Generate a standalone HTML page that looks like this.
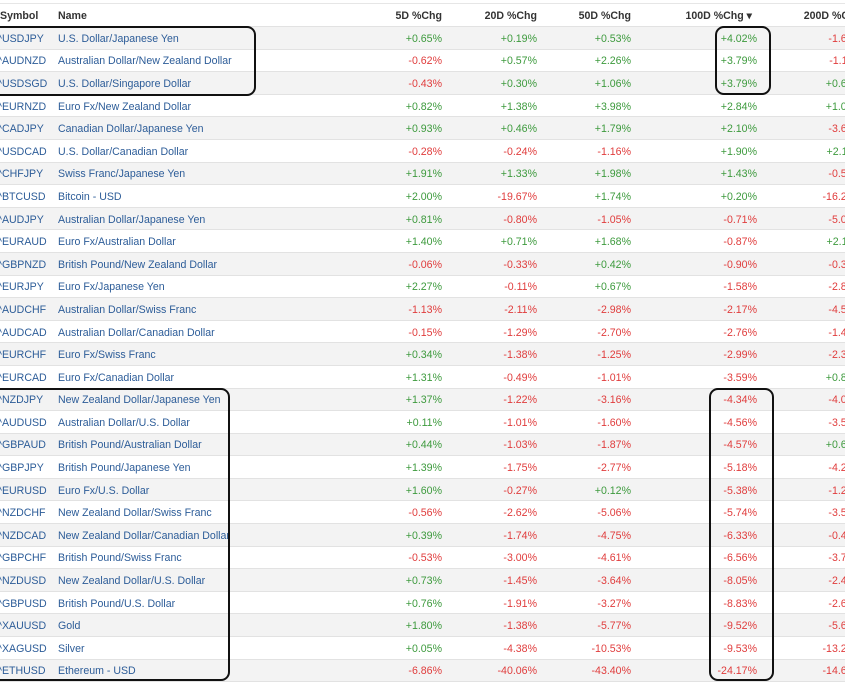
<!DOCTYPE html>
<html><head><meta charset="utf-8"><style>
html,body{margin:0;padding:0;background:#fff;width:845px;height:684px;overflow:hidden;position:relative}
table{position:absolute;left:-3px;top:3px;border-collapse:collapse;table-layout:fixed;width:865px;font-family:"Liberation Sans",sans-serif;font-size:10.6px;border-top:1px solid #e6e6e6}
td,th{height:22.6px;padding:2px 0 0 0;border-bottom:1px solid #e2e2e2;white-space:nowrap;overflow:hidden;box-sizing:border-box}
th{font-weight:bold;color:#333;text-align:right;height:23px}
th.l{text-align:left}
tr:nth-child(even) td{background:#f3f3f3}
td.s,td.n{color:#2c5c98}
td.r{text-align:right}
.g{color:#3d9a3d}.d{color:#e03c3c}
.box{position:absolute;border:2px solid #111;border-radius:9px;box-sizing:border-box}
</style></head><body>
<table>
<colgroup><col style="width:61px"><col style="width:325px"><col style="width:59px"><col style="width:95px"><col style="width:94px"><col style="width:126px"><col style="width:105px"></colgroup>
<tr><th class="l" style="padding-left:3px">Symbol</th><th class="l">Name</th><th>5D %Chg</th><th>20D %Chg</th><th>50D %Chg</th><th style="padding-right:5px">100D %Chg ▾</th><th>200D %Chg</th></tr>
<tr><td class="s">^USDJPY</td><td class="n">U.S. Dollar/Japanese Yen</td><td class="r g">+0.65%</td><td class="r g">+0.19%</td><td class="r g">+0.53%</td><td class="r g">+4.02%</td><td class="r d">-1.61%</td></tr>
<tr><td class="s">^AUDNZD</td><td class="n">Australian Dollar/New Zealand Dollar</td><td class="r d">-0.62%</td><td class="r g">+0.57%</td><td class="r g">+2.26%</td><td class="r g">+3.79%</td><td class="r d">-1.11%</td></tr>
<tr><td class="s">^USDSGD</td><td class="n">U.S. Dollar/Singapore Dollar</td><td class="r d">-0.43%</td><td class="r g">+0.30%</td><td class="r g">+1.06%</td><td class="r g">+3.79%</td><td class="r g">+0.61%</td></tr>
<tr><td class="s">^EURNZD</td><td class="n">Euro Fx/New Zealand Dollar</td><td class="r g">+0.82%</td><td class="r g">+1.38%</td><td class="r g">+3.98%</td><td class="r g">+2.84%</td><td class="r g">+1.01%</td></tr>
<tr><td class="s">^CADJPY</td><td class="n">Canadian Dollar/Japanese Yen</td><td class="r g">+0.93%</td><td class="r g">+0.46%</td><td class="r g">+1.79%</td><td class="r g">+2.10%</td><td class="r d">-3.61%</td></tr>
<tr><td class="s">^USDCAD</td><td class="n">U.S. Dollar/Canadian Dollar</td><td class="r d">-0.28%</td><td class="r d">-0.24%</td><td class="r d">-1.16%</td><td class="r g">+1.90%</td><td class="r g">+2.11%</td></tr>
<tr><td class="s">^CHFJPY</td><td class="n">Swiss Franc/Japanese Yen</td><td class="r g">+1.91%</td><td class="r g">+1.33%</td><td class="r g">+1.98%</td><td class="r g">+1.43%</td><td class="r d">-0.51%</td></tr>
<tr><td class="s">^BTCUSD</td><td class="n">Bitcoin - USD</td><td class="r g">+2.00%</td><td class="r d">-19.67%</td><td class="r g">+1.74%</td><td class="r g">+0.20%</td><td class="r d">-16.21%</td></tr>
<tr><td class="s">^AUDJPY</td><td class="n">Australian Dollar/Japanese Yen</td><td class="r g">+0.81%</td><td class="r d">-0.80%</td><td class="r d">-1.05%</td><td class="r d">-0.71%</td><td class="r d">-5.01%</td></tr>
<tr><td class="s">^EURAUD</td><td class="n">Euro Fx/Australian Dollar</td><td class="r g">+1.40%</td><td class="r g">+0.71%</td><td class="r g">+1.68%</td><td class="r d">-0.87%</td><td class="r g">+2.11%</td></tr>
<tr><td class="s">^GBPNZD</td><td class="n">British Pound/New Zealand Dollar</td><td class="r d">-0.06%</td><td class="r d">-0.33%</td><td class="r g">+0.42%</td><td class="r d">-0.90%</td><td class="r d">-0.31%</td></tr>
<tr><td class="s">^EURJPY</td><td class="n">Euro Fx/Japanese Yen</td><td class="r g">+2.27%</td><td class="r d">-0.11%</td><td class="r g">+0.67%</td><td class="r d">-1.58%</td><td class="r d">-2.81%</td></tr>
<tr><td class="s">^AUDCHF</td><td class="n">Australian Dollar/Swiss Franc</td><td class="r d">-1.13%</td><td class="r d">-2.11%</td><td class="r d">-2.98%</td><td class="r d">-2.17%</td><td class="r d">-4.51%</td></tr>
<tr><td class="s">^AUDCAD</td><td class="n">Australian Dollar/Canadian Dollar</td><td class="r d">-0.15%</td><td class="r d">-1.29%</td><td class="r d">-2.70%</td><td class="r d">-2.76%</td><td class="r d">-1.41%</td></tr>
<tr><td class="s">^EURCHF</td><td class="n">Euro Fx/Swiss Franc</td><td class="r g">+0.34%</td><td class="r d">-1.38%</td><td class="r d">-1.25%</td><td class="r d">-2.99%</td><td class="r d">-2.31%</td></tr>
<tr><td class="s">^EURCAD</td><td class="n">Euro Fx/Canadian Dollar</td><td class="r g">+1.31%</td><td class="r d">-0.49%</td><td class="r d">-1.01%</td><td class="r d">-3.59%</td><td class="r g">+0.81%</td></tr>
<tr><td class="s">^NZDJPY</td><td class="n">New Zealand Dollar/Japanese Yen</td><td class="r g">+1.37%</td><td class="r d">-1.22%</td><td class="r d">-3.16%</td><td class="r d">-4.34%</td><td class="r d">-4.01%</td></tr>
<tr><td class="s">^AUDUSD</td><td class="n">Australian Dollar/U.S. Dollar</td><td class="r g">+0.11%</td><td class="r d">-1.01%</td><td class="r d">-1.60%</td><td class="r d">-4.56%</td><td class="r d">-3.51%</td></tr>
<tr><td class="s">^GBPAUD</td><td class="n">British Pound/Australian Dollar</td><td class="r g">+0.44%</td><td class="r d">-1.03%</td><td class="r d">-1.87%</td><td class="r d">-4.57%</td><td class="r g">+0.61%</td></tr>
<tr><td class="s">^GBPJPY</td><td class="n">British Pound/Japanese Yen</td><td class="r g">+1.39%</td><td class="r d">-1.75%</td><td class="r d">-2.77%</td><td class="r d">-5.18%</td><td class="r d">-4.21%</td></tr>
<tr><td class="s">^EURUSD</td><td class="n">Euro Fx/U.S. Dollar</td><td class="r g">+1.60%</td><td class="r d">-0.27%</td><td class="r g">+0.12%</td><td class="r d">-5.38%</td><td class="r d">-1.21%</td></tr>
<tr><td class="s">^NZDCHF</td><td class="n">New Zealand Dollar/Swiss Franc</td><td class="r d">-0.56%</td><td class="r d">-2.62%</td><td class="r d">-5.06%</td><td class="r d">-5.74%</td><td class="r d">-3.51%</td></tr>
<tr><td class="s">^NZDCAD</td><td class="n">New Zealand Dollar/Canadian Dollar</td><td class="r g">+0.39%</td><td class="r d">-1.74%</td><td class="r d">-4.75%</td><td class="r d">-6.33%</td><td class="r d">-0.41%</td></tr>
<tr><td class="s">^GBPCHF</td><td class="n">British Pound/Swiss Franc</td><td class="r d">-0.53%</td><td class="r d">-3.00%</td><td class="r d">-4.61%</td><td class="r d">-6.56%</td><td class="r d">-3.71%</td></tr>
<tr><td class="s">^NZDUSD</td><td class="n">New Zealand Dollar/U.S. Dollar</td><td class="r g">+0.73%</td><td class="r d">-1.45%</td><td class="r d">-3.64%</td><td class="r d">-8.05%</td><td class="r d">-2.41%</td></tr>
<tr><td class="s">^GBPUSD</td><td class="n">British Pound/U.S. Dollar</td><td class="r g">+0.76%</td><td class="r d">-1.91%</td><td class="r d">-3.27%</td><td class="r d">-8.83%</td><td class="r d">-2.61%</td></tr>
<tr><td class="s">^XAUUSD</td><td class="n">Gold</td><td class="r g">+1.80%</td><td class="r d">-1.38%</td><td class="r d">-5.77%</td><td class="r d">-9.52%</td><td class="r d">-5.61%</td></tr>
<tr><td class="s">^XAGUSD</td><td class="n">Silver</td><td class="r g">+0.05%</td><td class="r d">-4.38%</td><td class="r d">-10.53%</td><td class="r d">-9.53%</td><td class="r d">-13.21%</td></tr>
<tr><td class="s">^ETHUSD</td><td class="n">Ethereum - USD</td><td class="r d">-6.86%</td><td class="r d">-40.06%</td><td class="r d">-43.40%</td><td class="r d">-24.17%</td><td class="r d">-14.61%</td></tr>
</table>
<div class="box" style="left:-10px;top:26px;width:266px;height:70px"></div>
<div class="box" style="left:715px;top:26px;width:56px;height:69px"></div>
<div class="box" style="left:-10px;top:388px;width:240px;height:293px"></div>
<div class="box" style="left:709px;top:388px;width:65px;height:293px"></div>
</body></html>
